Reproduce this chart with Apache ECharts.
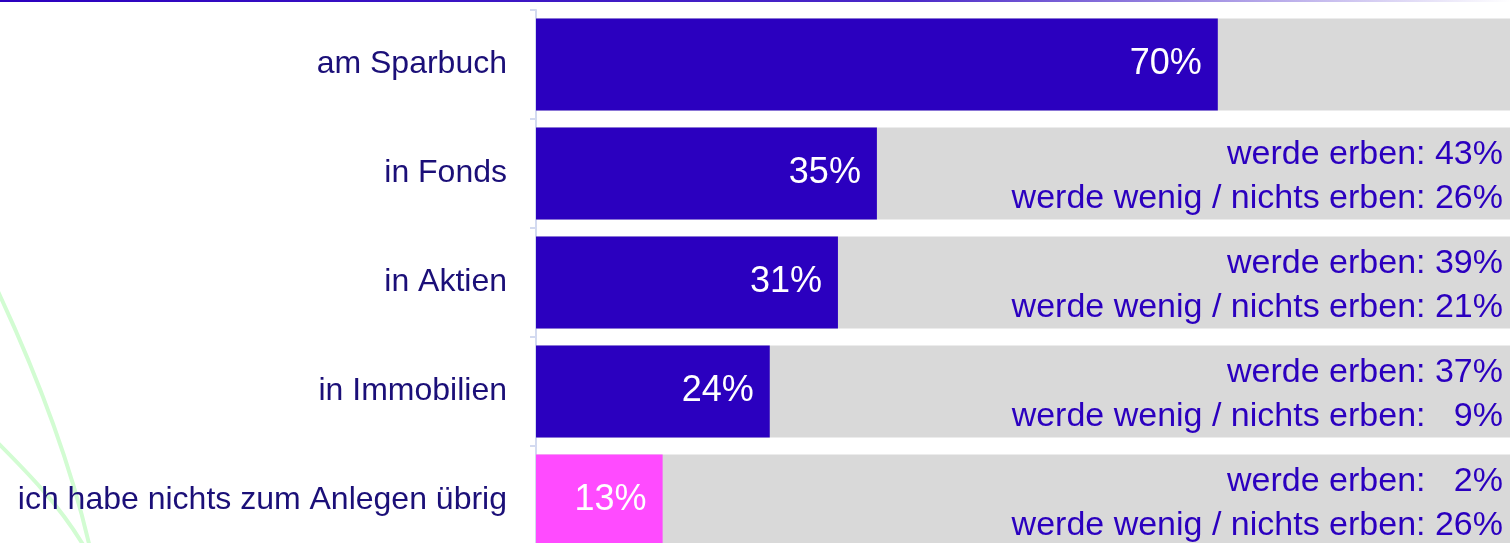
<!DOCTYPE html>
<html>
<head>
<meta charset="utf-8">
<script src="https://cdn.jsdelivr.net/npm/echarts@6/dist/echarts.min.js"></script>
<style>
  html, body { margin: 0; padding: 0; background: #fff; }
  #chart { width: 1512px; height: 543px; }
</style>
</head>
<body>
<div id="chart"></div>
<script>
var chart = echarts.init(document.getElementById('chart'));

// Kategorien und Werte (in %)
var categories = ['am Sparbuch', 'in Fonds', 'in Aktien', 'in Immobilien', 'ich habe nichts zum Anlegen übrig'];
var values = [70, 35, 31, 24, 13];
var totals = [100, 100, 100, 100, 100];
// Zusatzangaben rechts: "werde erben" / "werde wenig / nichts erben"
var erben = [null, 43, 39, 37, 2];
var wenigErben = [null, 26, 21, 9, 26];

var font = '"Liberation Sans", Arial, sans-serif';
var blue = '#2b00bf';
var pink = '#ff4bff';

function pad(n) {
    // einstellige Zahlen wie im Original rechtsbündig auffüllen
    return n < 10 ? '  ' + n : '' + n;
}

var barData = values.map(function (v, i) {
    if (i === values.length - 1) {
        return { value: v, itemStyle: { color: pink } };
    }
    return v;
});

var option = {
    backgroundColor: '#ffffff',
    animation: false,
    grid: {
        left: 536,
        right: 2,
        top: 10,
        height: 545,
        outerBoundsMode: 'none',
        containLabel: false
    },
    xAxis: {
        type: 'value',
        min: 0,
        max: 100,
        show: false
    },
    yAxis: {
        type: 'category',
        data: categories,
        inverse: true,
        axisLine: { lineStyle: { color: '#d3daf0', width: 2 } },
        axisTick: { show: true, length: 6, lineStyle: { color: '#d3daf0', width: 2 } },
        axisLabel: {
            color: '#1b0f78',
            fontSize: 32,
            fontFamily: font,
            margin: 29,
            padding: [6, 0, 0, 0]
        }
    },
    graphic: [
        {
            // dünne Linie am oberen Rand
            type: 'rect',
            shape: { x: 0, y: 0, width: 1512, height: 2 },
            style: {
                fill: new echarts.graphic.LinearGradient(0, 0, 1, 0, [
                    { offset: 0, color: '#2b00bf' },
                    { offset: 0.6, color: '#4a28c8' },
                    { offset: 1, color: '#ffffff' }
                ])
            },
            z: -1
        },
        {
            // grüne Schwünge links (Hintergrund-Deko)
            type: 'bezierCurve',
            shape: { x1: -5, y1: 285, x2: 90, y2: 548, cpx1: 35, cpy1: 370, cpx2: 70, cpy2: 460 },
            style: { stroke: '#d2fcd2', lineWidth: 4, fill: null },
            z: -1
        },
        {
            type: 'bezierCurve',
            shape: { x1: -5, y1: 440, x2: 85, y2: 548, cpx1: 25, cpy1: 470, cpx2: 60, cpy2: 505 },
            style: { stroke: '#d2fcd2', lineWidth: 4, fill: null },
            z: -1
        }
    ],
    series: [
        {
            name: 'gesamt',
            type: 'bar',
            data: totals,
            barWidth: 92,
            barGap: '-100%',
            silent: true,
            itemStyle: { color: '#d9d9d9' },
            label: {
                show: true,
                position: 'insideRight',
                distance: 7,
                offset: [0, 3],
                color: blue,
                fontSize: 34,
                fontFamily: font,
                align: 'right',
                lineHeight: 44,
                formatter: function (p) {
                    var i = p.dataIndex;
                    if (erben[i] == null) return '';
                    return 'werde erben: ' + pad(erben[i]) + '%\nwerde wenig / nichts erben: ' + pad(wenigErben[i]) + '%';
                }
            },
            z: 1
        },
        {
            name: 'Anteil',
            type: 'bar',
            data: barData,
            barWidth: 92,
            itemStyle: { color: blue },
            label: {
                show: true,
                position: 'insideRight',
                distance: 16,
                color: '#ffffff',
                fontSize: 36,
                fontFamily: font,
                formatter: '{c}%'
            },
            z: 2
        }
    ]
};

chart.setOption(option);
</script>
</body>
</html>
